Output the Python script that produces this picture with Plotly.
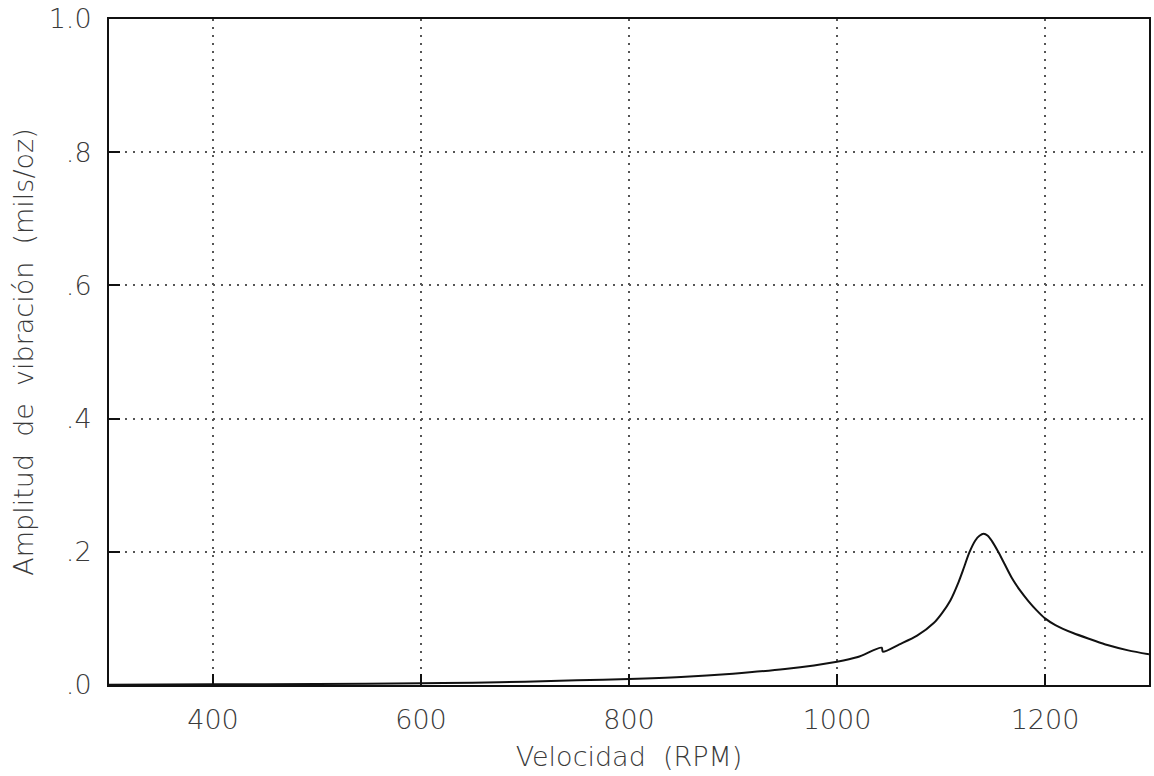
import plotly.graph_objects as go

# Data
rpm = [300, 400, 500, 600, 650, 700, 750, 800, 850, 900, 950, 1000, 1020, 1043, 1044,
       1060, 1077, 1093, 1101, 1109, 1117, 1122, 1127, 1133, 1137, 1141, 1145, 1149,
       1155, 1161, 1168, 1176, 1184, 1192, 1200, 1210, 1227, 1245, 1260, 1280, 1300]
amp = [0.0005, 0.001, 0.0015, 0.0025, 0.0035, 0.005, 0.007, 0.009, 0.012, 0.017, 0.024,
       0.035, 0.042, 0.056, 0.050, 0.061, 0.074, 0.093, 0.108, 0.127, 0.155, 0.176, 0.198,
       0.217, 0.224, 0.227, 0.224, 0.216, 0.200, 0.182, 0.161, 0.142, 0.126, 0.112, 0.100,
       0.090, 0.078, 0.068, 0.060, 0.052, 0.046]

x_ticks = [400, 600, 800, 1000, 1200]
x_tick_labels = ["400", "600", "800", "1000", "1200"]
y_ticks = [0, 0.2, 0.4, 0.6, 0.8, 1.0]
y_tick_labels = [".0", ".2", ".4", ".6", ".8", "1.0"]

x_title = "Velocidad  (RPM)"
y_title = "Amplitud  de  vibración  (mils/oz)"

FONT = "DejaVu Sans"
TXT = "#3a3a3a"

fig = go.Figure()
fig.add_trace(go.Scatter(
    x=rpm, y=amp, mode="lines",
    line=dict(color="#111111", width=2, shape="spline", smoothing=0.8),
    showlegend=False, hoverinfo="skip",
))

axis_common = dict(
    showline=True, linecolor="#111111", linewidth=2, mirror=True,
    showgrid=True, gridcolor="#555555", gridwidth=1.5, griddash="2px,6px",
    zeroline=False, automargin=False, ticklabeloverflow="allow",
    ticks="inside", ticklen=11, tickwidth=1.5, tickcolor="#111111",
    tickfont=dict(family=FONT, size=27, color=TXT, weight=200),
)

fig.update_xaxes(
    range=[300, 1300], tickvals=x_ticks, ticktext=x_tick_labels,
    ticklabelstandoff=10,
    title=dict(text=x_title, font=dict(family=FONT, size=27, color=TXT, weight=200), standoff=13),
    **axis_common,
)
fig.update_yaxes(
    range=[0, 1.0], tickvals=y_ticks, ticktext=y_tick_labels,
    ticklabelstandoff=10,
    title=dict(text=y_title, font=dict(family=FONT, size=27, color=TXT, weight=200), standoff=7),
    **axis_common,
)

fig.update_layout(
    width=1154, height=776,
    margin=dict(l=109, r=5, t=19, b=91),
    plot_bgcolor="white", paper_bgcolor="white",
)

# remove the default 8px page margin so the figure fills the window exactly
fig.write_html(
    "out.html",
    config={"displayModeBar": False},
    post_script="document.body.style.margin='0';document.body.style.overflow='hidden';",
)
